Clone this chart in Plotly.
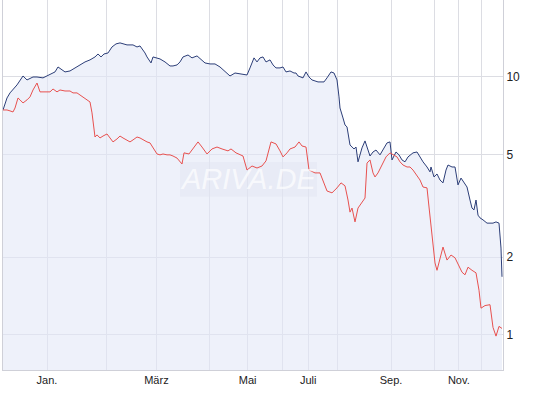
import plotly.graph_objects as go

# trading-day index (0..250) for each sampled point
blue_x = [0, 2, 3.5, 7, 10, 12, 15, 17, 20, 22, 23.5, 26, 27.5, 31, 33.5, 36, 38.5, 41, 43.5, 46,
          47.5, 49, 50.5, 52.5, 54.5, 56.5, 58.5, 62, 65, 67, 68.5, 70, 71, 72, 74, 75, 77, 78.5,
          81, 83.5, 85, 87, 88.5, 90, 92.5, 94.5, 97, 98.5, 101, 103.5, 106, 108.5, 111, 113.5,
          116, 118.5, 122, 123.5, 125.5, 127, 128.5, 130, 131.5, 133.5, 135, 136.5, 138.5, 140,
          141.5, 143.5, 145.5, 146.5, 147.5, 150, 151.5, 153, 154.5, 157.5, 160.5, 162, 164,
          165.5, 167, 168, 168.5, 170, 171, 172, 173.5, 175.5, 176.5, 177.5, 179.5, 181, 182,
          183.5, 185, 186.5, 188.5, 190, 192, 193.5, 194.5, 196.5, 198, 199.5, 201, 202.5, 205,
          207, 208.5, 210, 212, 213.5, 214, 215.5, 217, 218.5, 220, 221.5, 222.5, 224.5, 226,
          227.5, 229, 230.5, 232, 233.5, 234.5, 235.5, 236.5, 237.5, 238.5, 240, 242, 245,
          246.5, 248, 249, 249.5]
blue_y = [7.43, 8.27, 8.65, 9.29, 10.06, 9.71, 9.97, 9.97, 9.89, 10.06, 10.15, 10.43, 10.90, 10.43,
          10.52, 10.81, 11.10, 11.40, 11.61, 11.92, 12.24, 11.92, 12.24, 12.35, 13.03, 13.39,
          13.51, 13.27, 13.27, 13.03, 13.15, 12.69, 12.35, 11.92, 11.30, 11.92, 11.82, 11.71,
          11.40, 11.00, 11.00, 11.10, 11.40, 11.92, 12.13, 11.82, 12.03, 11.71, 11.30, 11.20,
          11.20, 10.90, 10.43, 10.06, 10.33, 10.24, 10.15, 10.81, 11.82, 11.40, 11.82, 11.92,
          11.40, 11.61, 11.10, 10.81, 10.81, 10.90, 10.43, 10.52, 10.33, 10.33, 10.06, 9.89,
          10.43, 9.97, 9.71, 9.54, 9.54, 9.89, 10.43, 10.33, 9.71, 8.35, 7.56, 6.92, 6.50, 6.39,
          5.44, 5.25, 5.34, 4.68, 5.30, 5.64, 5.30, 4.93, 5.11, 5.20, 4.98, 5.20, 5.54, 5.59,
          4.76, 5.11, 4.98, 4.76, 4.68, 4.89, 5.07, 5.11, 4.89, 4.68, 4.47, 4.28, 4.47, 4.09,
          4.20, 3.98, 3.88, 4.35, 4.55, 4.47, 4.47, 3.81, 4.05, 3.91, 3.74, 3.33, 3.10, 3.05,
          3.33, 2.91, 2.84, 2.79, 2.71, 2.71, 2.74, 2.71, 2.17, 1.68]

red_x = [0, 2, 3.5, 5, 6, 7.5, 8.5, 10, 12, 13.5, 15, 17, 18.5, 21, 23.5, 25, 27, 28.5, 31, 33.5,
         35, 37, 38.5, 40, 42, 43.5, 44.5, 45.5, 46, 47, 48.5, 50, 52, 53.5, 55, 57, 58.5, 60,
         62, 63.5, 65, 67, 68.5, 70, 72, 73.5, 75, 77, 78.5, 80, 82, 83.5, 85, 87, 89.5, 90.5,
         93, 95, 97.5, 99.5, 102, 104.5, 107, 109.5, 112.5, 114, 116.5, 120, 122, 124.5, 127,
         129.5, 131.5, 134, 136.5, 138.5, 140, 142, 143.5, 146, 148, 149.5, 151.5, 153, 156,
         158.5, 162, 164.5, 167, 169, 171, 172.5, 173.5, 174.5, 176, 177.5, 179.5, 181, 182,
         183.5, 185, 186, 187.5, 189.5, 191.5, 193.5, 195, 197, 198.5, 200, 202, 203.5, 205,
         207, 208.5, 210, 212, 213, 214.5, 216, 217, 218.5, 220, 222, 224, 226, 227.5, 229.5,
         231, 232.5, 234.5, 236.5, 238, 239, 241, 243.5, 245, 246.5, 248, 249.5]
red_y = [7.43, 7.43, 7.37, 7.30, 7.56, 8.27, 8.13, 7.91, 8.13, 8.35, 8.88, 9.45, 8.73, 8.73, 8.73,
         8.96, 8.73, 8.88, 8.80, 8.80, 8.65, 8.65, 8.50, 8.35, 8.13, 7.98, 7.24, 6.11, 5.84,
         5.95, 5.79, 5.89, 6.00, 5.79, 5.59, 5.74, 5.89, 5.79, 5.69, 5.59, 5.69, 5.84, 5.79,
         5.69, 5.59, 5.54, 5.30, 5.02, 4.98, 5.02, 4.98, 4.98, 4.93, 4.84, 4.59, 5.07, 5.02,
         5.25, 5.59, 5.34, 5.02, 5.25, 5.34, 5.25, 5.16, 5.25, 5.07, 4.93, 4.35, 4.51, 4.43,
         4.51, 4.72, 5.59, 5.49, 5.16, 4.89, 5.07, 5.25, 5.34, 5.59, 5.39, 5.34, 4.35, 4.24,
         4.24, 3.61, 3.55, 3.71, 3.88, 3.78, 3.33, 2.99, 3.10, 2.74, 3.10, 3.27, 3.39, 4.63,
         4.76, 4.24, 4.09, 4.24, 4.55, 4.89, 5.07, 4.98, 4.89, 4.68, 4.55, 4.47, 4.47, 4.35,
         4.16, 3.98, 3.74, 3.71, 3.13, 2.40, 1.90, 1.78, 2.00, 2.19, 1.95, 2.04, 1.99, 1.87,
         1.75, 1.71, 1.83, 1.78, 1.74, 1.49, 1.27, 1.30, 1.31, 1.07, 0.99, 1.08, 1.06]

month_pos = [22, 51.5, 76.7, 103.3, 122.3, 139.6, 152.6, 167.1, 194, 215.8, 227.9, 239.2]
month_txt = ["Jan.", "", "März", "", "Mai", "", "Juli", "", "Sep.", "", "Nov.", ""]
y_ticks = [1, 2, 5, 10]

fig = go.Figure()
fig.add_trace(go.Scatter(x=blue_x, y=blue_y, mode="lines", fill="tozeroy",
                         fillcolor="rgba(226,231,246,0.6)",
                         line=dict(color="#2c3e78", width=1), hoverinfo="skip"))
fig.add_trace(go.Scatter(x=red_x, y=red_y, mode="lines",
                         line=dict(color="#e8514f", width=1), hoverinfo="skip"))

fig.add_shape(type="rect", xref="paper", yref="paper", x0=0.354, x1=0.628, y0=0.468, y1=0.562,
              fillcolor="rgba(205,208,218,0.3)", line=dict(width=0), layer="below")
fig.add_annotation(text="<i>ARIVA.DE</i>", xref="paper", yref="paper", x=0.49, y=0.515,
                   showarrow=False, font=dict(family="Liberation Sans, Arial", size=29,
                                              color="rgba(255,255,255,0.7)"))

fig.update_layout(
    width=545, height=398,
    margin=dict(l=3, r=42, t=0, b=28),
    paper_bgcolor="white", plot_bgcolor="white",
    showlegend=False,
    font=dict(family="Liberation Sans Narrow, Arial Narrow, Liberation Sans, Arial", size=11,
              color="#222"),
)
fig.update_xaxes(range=[0, 250], tickvals=month_pos, ticktext=month_txt, showgrid=True,
                 gridcolor="#dcdde3", gridwidth=1, ticks="", showline=True, linecolor="#cfd0d8",
                 mirror=True, zeroline=False, tickfont=dict(size=11))
fig.update_yaxes(type="log", side="right", range=[-0.1355, 1.2967], tickvals=y_ticks,
                 ticktext=[str(v) for v in y_ticks], showgrid=True, gridcolor="#dcdde3",
                 gridwidth=1, ticks="", showline=True, linecolor="#cfd0d8", mirror=True,
                 zeroline=False, tickfont=dict(size=12))

fig.write_html("out.html", config={"displayModeBar": False},
               post_script="document.body.style.margin='0';")
